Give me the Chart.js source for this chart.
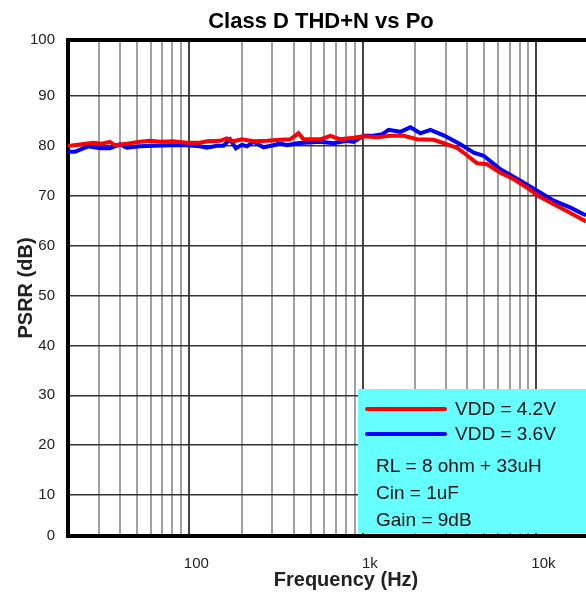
<!DOCTYPE html>
<html>
<head>
<meta charset="utf-8">
<script src="https://cdn.jsdelivr.net/npm/chart.js@4"></script>
<style>
body { margin: 0; background: #fff; }
</style>
</head>
<body>
<canvas id="grafico" width="586" height="593"></canvas>
<script>
// valores (Hz, dB)
var freqVermelho = [20, 20.5, 28, 31.3, 34.9, 37.3, 43.6, 52, 59.4, 67.9, 80.6, 96.7, 115.4, 126.2, 150.5, 164.5, 179, 200.8, 234.3, 280, 334, 381, 426, 455, 568, 649, 741, 883, 1009, 1206, 1439, 1718, 2051, 2559, 3055, 3489, 3811, 4551, 5196, 6199, 7399, 8840, 10090, 12585, 15037, 18750, 19300];
var psrrVermelho = [80.0, 80.0, 80.6, 80.4, 80.8, 80.1, 80.4, 80.8, 81.0, 80.8, 80.9, 80.6, 80.6, 80.9, 81.0, 81.5, 80.9, 81.3, 80.9, 81.0, 81.2, 81.3, 82.5, 81.3, 81.3, 82.0, 81.3, 81.6, 81.9, 81.7, 82.0, 82.0, 81.3, 81.2, 80.3, 79.6, 78.6, 76.5, 76.3, 74.6, 73.3, 71.6, 70.1, 68.3, 66.9, 65.1, 64.8];

var freqAzul = [20, 21.9, 24.5, 26.2, 30.6, 34.9, 39.9, 43.6, 52, 62.1, 77.5, 96.7, 115.4, 126.2, 144.1, 157.3, 171.8, 185.4, 200.8, 214.7, 234.3, 267.5, 305.5, 334, 365, 417, 568, 678, 809, 883, 1009, 1153, 1289, 1407, 1644, 1877, 2143, 2449, 2919, 3646, 4348, 4968, 6199, 8089, 10090, 12585, 15710, 19170, 19300];
var psrrAzul = [78.8, 78.8, 79.5, 79.9, 79.5, 79.5, 80.3, 79.6, 79.9, 80.0, 80.1, 80.1, 79.9, 79.6, 80.0, 80.0, 81.3, 79.5, 80.2, 79.9, 80.8, 79.7, 80.1, 80.5, 80.1, 80.5, 80.8, 80.5, 81.0, 80.8, 82.0, 82.0, 82.3, 83.2, 82.8, 83.7, 82.5, 83.2, 82.1, 80.3, 78.6, 78.0, 75.3, 73.0, 71.0, 69.0, 67.6, 66.1, 66.0];

var rotulosSeries = ['VDD = 4.2V', 'VDD = 3.6V'];
var notas = ['RL = 8 ohm + 33uH', 'Cin = 1uF', 'Gain = 9dB'];
var titulo = 'Class D THD+N vs Po';
var tituloX = 'Frequency (Hz)';

var xTicks = [20, 30, 40, 50, 60, 70, 80, 90, 100, 200, 300, 400, 500, 600, 700, 800, 900, 1000, 2000, 3000, 4000, 5000, 6000, 7000, 8000, 9000, 10000];
var xRotulos = { 100: '100', 1000: '1k', 10000: '10k' };
// no original o primeiro e o ultimo passo do eixo sao mais curtos
var yTicks = [1.8, 10, 20, 30, 40, 50, 60, 70, 80, 90, 101.2];
var yRotulos = ['0', '10', '20', '30', '40', '50', '60', '70', '80', '90', '100'];

function pontos(fs, vs) {
    return fs.map(function (f, i) { return { x: f, y: vs[i] }; });
}

var caixaLegenda = {
    id: 'caixaLegenda',
    afterDraw: function (chart) {
        var ctx = chart.ctx;
        var area = chart.chartArea;
        ctx.save();
        // borda de cima
        ctx.strokeStyle = '#000';
        ctx.lineWidth = 4;
        ctx.beginPath();
        ctx.moveTo(area.left - 2, area.top);
        ctx.lineTo(area.right, area.top);
        ctx.stroke();

        // titulos (o original nao centra no canvas)
        ctx.textAlign = 'center';
        ctx.textBaseline = 'middle';
        ctx.fillStyle = '#000';
        ctx.font = 'bold 22px Arial, "Liberation Sans", sans-serif';
        ctx.fillText(titulo, 321, 22);
        ctx.fillStyle = '#222';
        ctx.font = 'bold 20px Arial, "Liberation Sans", sans-serif';
        ctx.fillText(tituloX, 346, 580);

        ctx.fillStyle = '#66ffff';
        ctx.fillRect(358, 389, area.right - 358, area.bottom - 3 - 389);

        var cores = ['#ff0000', '#0000ff'];
        ctx.textAlign = 'left';
        ctx.lineWidth = 4;
        ctx.lineCap = 'round';
        ctx.font = '19px Arial, "Liberation Sans", sans-serif';
        ctx.fillStyle = '#111';
        for (var i = 0; i < 2; i++) {
            var y = 409 + i * 25;
            ctx.strokeStyle = cores[i];
            ctx.beginPath();
            ctx.moveTo(367, y);
            ctx.lineTo(445, y);
            ctx.stroke();
            ctx.fillText(rotulosSeries[i], 455, y + 1);
        }
        for (var j = 0; j < notas.length; j++) {
            ctx.fillText(notas[j], 376, 467 + j * 27);
        }
        ctx.restore();
    }
};

Chart.defaults.font.family = 'Arial, "Liberation Sans", sans-serif';
Chart.defaults.color = '#222';

new Chart(document.getElementById('grafico').getContext('2d'), {
    type: 'line',
    data: {
        datasets: [{
            label: rotulosSeries[0],
            data: pontos(freqVermelho, psrrVermelho),
            borderColor: '#ff0000',
            borderWidth: 4,
            pointRadius: 0,
            tension: 0
        }, {
            label: rotulosSeries[1],
            data: pontos(freqAzul, psrrAzul),
            borderColor: '#0000ff',
            borderWidth: 4,
            pointRadius: 0,
            tension: 0
        }]
    },
    options: {
        responsive: false,
        animation: false,
        layout: { padding: { top: 40, left: 0, right: 0, bottom: 0 } },
        plugins: {
            legend: { display: false },
            tooltip: { enabled: false },
            title: { display: false }
        },
        scales: {
            x: {
                type: 'logarithmic',
                min: 20,
                max: 19300,
                afterBuildTicks: function (scale) {
                    scale.ticks = xTicks.map(function (v) { return { value: v }; });
                },
                afterFit: function (scale) { scale.height = 57; },
                grid: {
                    drawTicks: false,
                    lineWidth: 2,
                    color: function (c) {
                        return xRotulos[c.tick.value] ? '#444' : '#a0a0a0';
                    }
                },
                border: { color: '#000', width: 4 },
                ticks: {
                    autoSkip: false,
                    maxRotation: 0,
                    padding: 19,
                    labelOffset: 7,
                    font: { size: 15 },
                    callback: function (v) { return xRotulos[v] || ''; }
                },
                title: { display: false }
            },
            y: {
                min: 1.8,
                max: 101.2,
                afterBuildTicks: function (scale) {
                    scale.ticks = yTicks.map(function (v) { return { value: v }; });
                },
                afterFit: function (scale) { scale.width = 68; },
                grid: { drawTicks: false, color: '#333', lineWidth: 1.5 },
                border: { color: '#000', width: 4 },
                ticks: {
                    padding: 13,
                    font: { size: 15 },
                    callback: function (v, i) { return yRotulos[i]; }
                },
                title: {
                    display: true,
                    text: 'PSRR (dB)',
                    color: '#222',
                    font: { size: 20, weight: 'bold' },
                    padding: { top: 14, bottom: 0 }
                }
            }
        }
    },
    plugins: [caixaLegenda]
});
</script>
</body>
</html>
